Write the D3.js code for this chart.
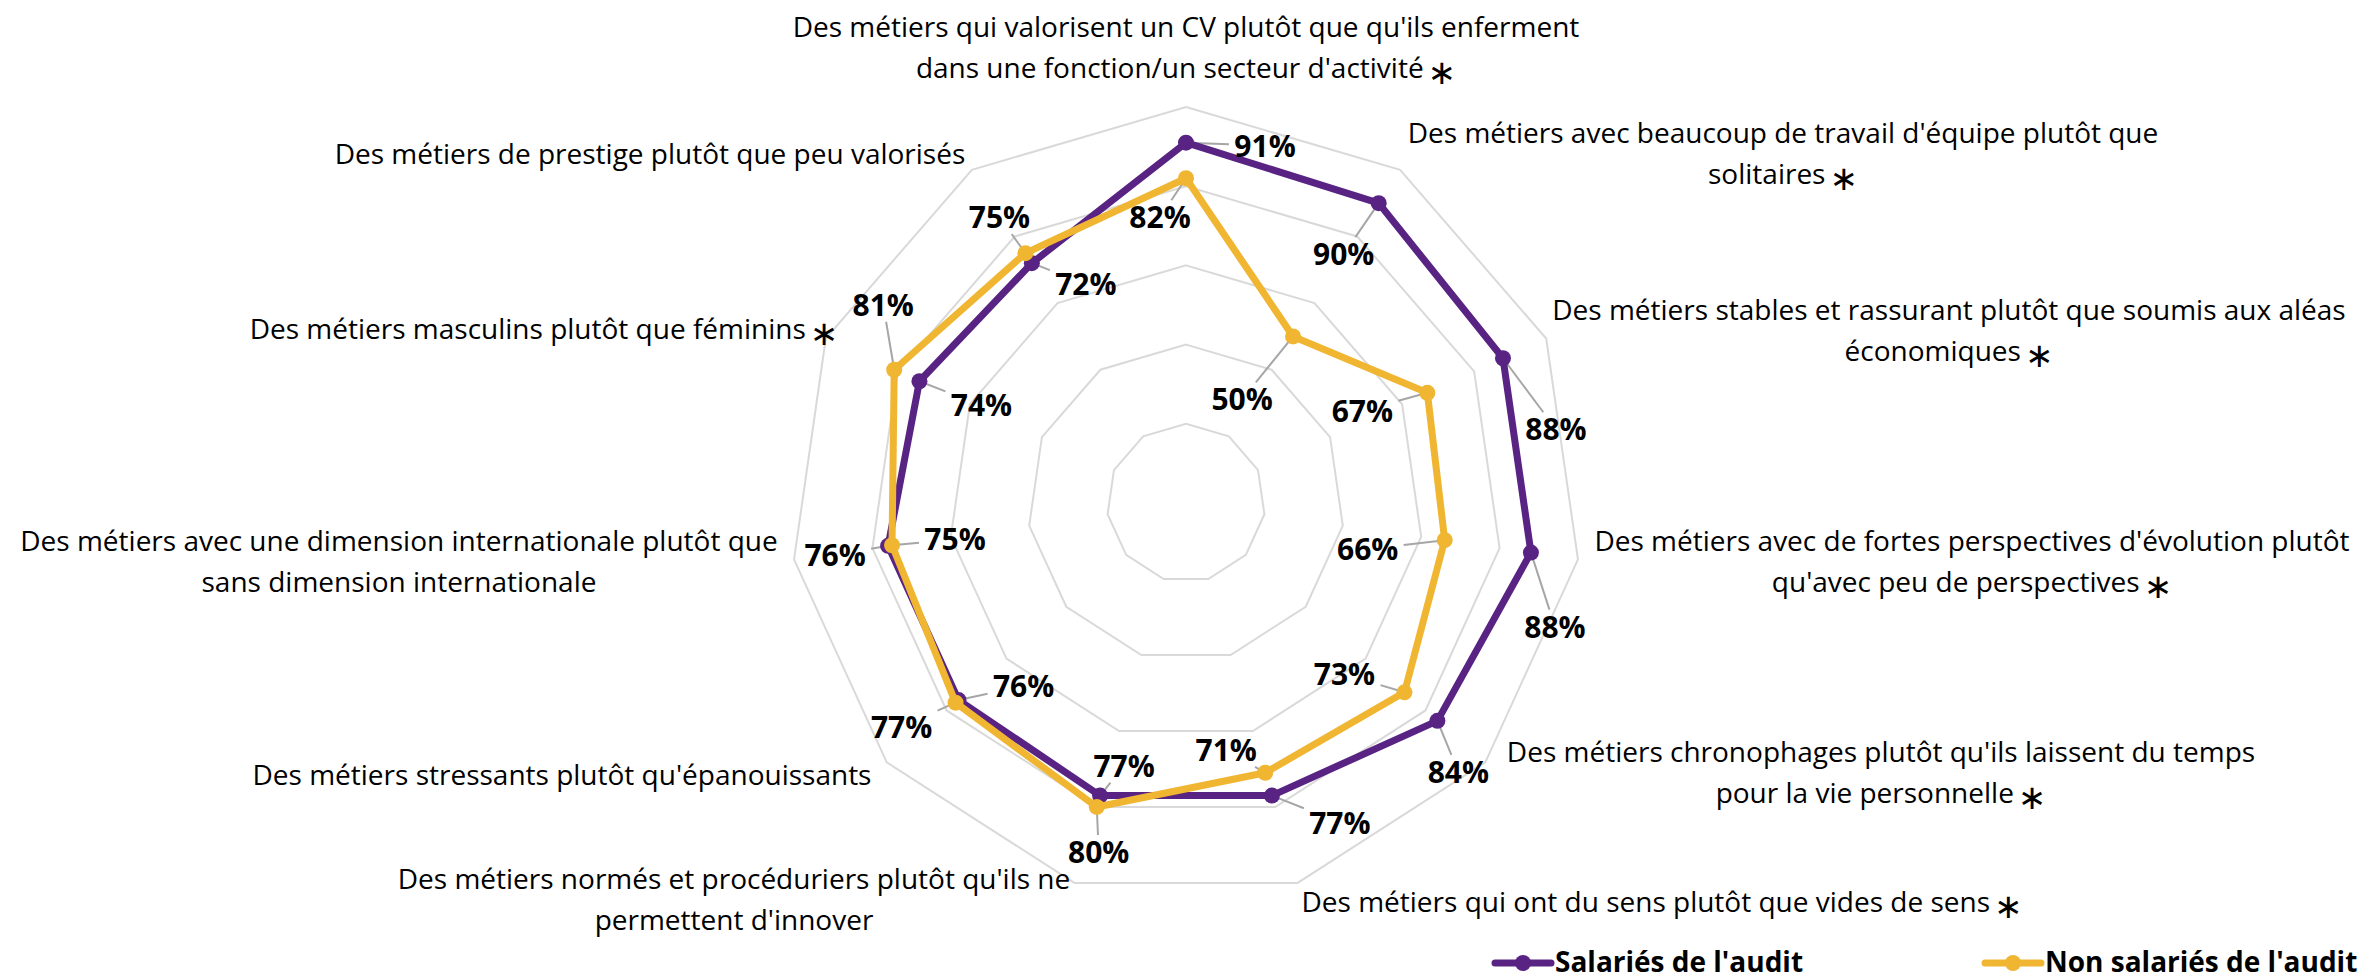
<!DOCTYPE html>
<html>
<head>
<meta charset="utf-8">
<script src="https://cdn.jsdelivr.net/npm/d3@7"></script>
<style>
  body { margin:0; background:#fff; }
  svg text { font-family:"Open Sans", sans-serif; fill:#000; }
</style>
</head>
<body>
<div id="canvas"></div>
<script>
// axes of the radar, clockwise from the top (lines of each label)
var categories = [
  ["Des métiers qui valorisent un CV plutôt que qu'ils enferment", "dans une fonction/un secteur d'activité"],
  ["Des métiers avec beaucoup de travail d'équipe plutôt que", "solitaires"],
  ["Des métiers stables et rassurant plutôt que soumis aux aléas", "économiques"],
  ["Des métiers avec de fortes perspectives d'évolution plutôt", "qu'avec peu de perspectives"],
  ["Des métiers chronophages plutôt qu'ils laissent du temps", "pour la vie personnelle"],
  ["Des métiers qui ont du sens plutôt que vides de sens"],
  ["Des métiers normés et procéduriers plutôt qu'ils ne", "permettent d'innover"],
  ["Des métiers stressants plutôt qu'épanouissants"],
  ["Des métiers avec une dimension internationale plutôt que", "sans dimension internationale"],
  ["Des métiers masculins plutôt que féminins"],
  ["Des métiers de prestige plutôt que peu valorisés"]
];
var starred = [true, true, true, true, true, true, false, false, false, true, false];

var salaries    = [91, 90, 88, 88, 84, 77, 77, 76, 76, 74, 72];
var nonSalaries = [82, 50, 67, 66, 73, 71, 80, 77, 75, 81, 75];
var seriesNames = ["Salariés de l'audit", "Non salariés de l'audit"];
var ringValues  = [20, 40, 60, 80, 100];

// layout (not data): label placement
var catPos = [[1186,27],[1783,133],[1949,310],[1972,541],[1881,752],[1662,902],[734,879],[562,775],[399,541],[544,329],[650,154]];
var offSal = [[79,3],[-35,51],[53,71],[24,74],[21,51],[68,27],[24,-30],[65,-14],[-53,9],[62,24],[54,21]];
var offNon = [[-26,39],[-51,63],[-65,18],[-77,9],[-60,-18],[-39,-23],[2,45],[-54,24],[63,-6],[-11,-65],[-26,-36]];

var W = 2369, H = 980;
var cx = 1186, cy = 503, R = 396;
var colors = ["#582383", "#F0B632"];

var svg = d3.select('#canvas').append('svg')
  .attr('width', W).attr('height', H);

var n = categories.length;
var angle = d3.scaleLinear().domain([0, n]).range([0, 2*Math.PI]);
var rScale = d3.scaleLinear().domain([0, 100]).range([0, R]);

function pt(i, v){
  var a = angle(i);
  return [cx + rScale(v)*Math.sin(a), cy - rScale(v)*Math.cos(a)];
}

//grid rings
var grid = svg.append('g');
ringValues.forEach(function(v){
  grid.append('polygon')
    .attr('points', d3.range(n).map(function(i){ return pt(i, v).join(','); }).join(' '))
    .attr('fill', 'none')
    .attr('stroke', '#d9d9d9')
    .attr('stroke-width', 2);
});

//category labels
categories.forEach(function(lines, i){
  var t = svg.append('text')
    .attr('text-anchor', 'middle')
    .attr('font-size', 28);
  lines.forEach(function(l, j){
    t.append('tspan')
      .attr('x', catPos[i][0])
      .attr('y', catPos[i][1] + j*41 + 10)
      .text(l);
    if (j == lines.length-1 && starred[i]) {
      t.append('tspan').attr('font-size', 34).attr('dx', 4).attr('dy', 6)
        .style('font-family', 'DejaVu Sans').text('∗');
    }
  });
});

var line = d3.line();
var all = [salaries, nonSalaries];
var offs = [offSal, offNon];

//leader lines
var labels = svg.append('g');
all.forEach(function(vals, s){
  vals.forEach(function(v, i){
    var p = pt(i, v);
    var dx = offs[s][i][0], dy = offs[s][i][1];
    var hw = 36, hh = 17;
    var k = Math.min(dx ? hw/Math.abs(dx) : 99, dy ? hh/Math.abs(dy) : 99);
    if (k < 0.8) {
      labels.append('line')
        .attr('x1', p[0]).attr('y1', p[1])
        .attr('x2', p[0] + dx*(1-k)).attr('y2', p[1] + dy*(1-k))
        .attr('stroke', '#a6a6a6').attr('stroke-width', 2);
    }
  });
});

//series lines and markers
all.forEach(function(vals, s){
  var pts = vals.map(function(v, i){ return pt(i, v); });
  svg.append('path')
    .attr('d', line(pts) + 'Z')
    .attr('fill', 'none')
    .attr('stroke', colors[s])
    .attr('stroke-width', 7)
    .attr('stroke-linejoin', 'round');
  svg.selectAll('circle.s' + s)
    .data(pts).enter()
    .append('circle')
    .attr('class', 's' + s)
    .attr('cx', function(d){ return d[0]; })
    .attr('cy', function(d){ return d[1]; })
    .attr('r', 8)
    .attr('fill', colors[s]);
});

//data labels
all.forEach(function(vals, s){
  vals.forEach(function(v, i){
    var p = pt(i, v);
    svg.append('text')
      .attr('x', p[0] + offs[s][i][0])
      .attr('y', p[1] + offs[s][i][1] + 11)
      .attr('text-anchor', 'middle')
      .attr('font-size', 30)
      .attr('font-weight', 'bold')
      .text(v + '%');
  });
});

//legend
var legX = [1495, 1985];
seriesNames.forEach(function(name, s){
  var g = svg.append('g').attr('transform', 'translate(' + legX[s] + ',963)');
  g.append('line').attr('x1', 0).attr('x2', 56).attr('y1', 0).attr('y2', 0)
    .attr('stroke', colors[s]).attr('stroke-width', 7).attr('stroke-linecap', 'round');
  g.append('circle').attr('cx', 28).attr('r', 8).attr('fill', colors[s]);
  g.append('text').attr('x', 60).attr('y', 9)
    .attr('font-size', 28).attr('font-weight', 'bold').text(name);
});
</script>
</body>
</html>
